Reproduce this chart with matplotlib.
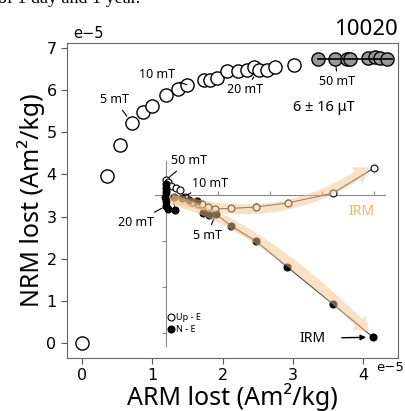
import numpy as np
import matplotlib
matplotlib.use('Agg')
from matplotlib import pyplot as plt
from matplotlib.patches import FancyArrowPatch
from matplotlib.path import Path
from matplotlib.lines import Line2D

plt.rcParams['font.family'] = ['DejaVu Sans']
LABEL_FONT = ['Noto Sans', 'DejaVu Sans']

# main plot : NRM lost vs ARM lost, in units of 1e-5 Am2/kg
arm_lost = [0.0, 0.36, 0.54, 0.71, 0.87, 0.99, 1.20, 1.37, 1.49, 1.73, 1.82, 1.92,
            2.06, 2.22, 2.34, 2.44, 2.51, 2.63, 2.75, 3.01]
nrm_lost = [0.0, 3.97, 4.70, 5.22, 5.49, 5.63, 5.89, 6.02, 6.13, 6.25, 6.25, 6.29,
            6.45, 6.45, 6.47, 6.56, 6.48, 6.48, 6.56, 6.60]
# steps above 50 mT (grey) and the fit through them
arm_lost_hi = [3.36, 3.60, 3.77, 3.81, 4.07, 4.17, 4.24, 4.33]
nrm_lost_hi = [6.75, 6.74, 6.73, 6.75, 6.77, 6.78, 6.76, 6.75]
fit_arm = [3.36, 4.41]
fit_nrm = [6.75, 6.75]
x_ticks = [0, 1, 2, 3, 4]
y_ticks = [0, 1, 2, 3, 4, 5, 6, 7]

# inset : orthogonal projection (arbitrary units)
upe_x = [0.0, 0.04, 0.10, 0.20, 0.27, 0.37, 0.50, 0.62, 0.69, 0.81, 0.94, 1.25, 1.73, 2.35, 3.21, 4.00]
upe_y = [0.33, 0.28, 0.20, 0.15, 0.10, -0.05, -0.15, -0.20, -0.19, -0.26, -0.30, -0.29, -0.26, -0.17, 0.04, 0.59]
ne_x = [0.0, 0.0, 0.0, -0.02, 0.0, 0.0, 0.04, 0.17, 0.15, 0.30, 0.45, 0.60, 0.72, 0.82, 0.96, 1.25, 1.73, 2.33, 3.21, 3.98]
ne_y = [0.24, 0.15, 0.06, -0.04, -0.13, -0.24, -0.30, -0.33, -0.05, -0.06, -0.10, -0.14, -0.40, -0.44, -0.41, -0.67, -1.00, -1.56, -2.37, -3.09]
# IRM direction arrows (quadratic bezier control points)
irm_arrow_upe = [(0.10, -0.05), (2.20, -0.80), (3.90, 0.60)]
irm_arrow_ne = [(0.10, -0.10), (1.80, -0.60), (3.90, -2.98)]

W, H = 406, 411
fig = plt.figure(figsize=(W / 100, H / 100), dpi=100)

# clipped caption line from the page above
fig.text(-0.005, 1 - 3 / H, 'of 1 day and 1 year.', family='Liberation Serif', fontsize=13, va='baseline')

ax = fig.add_axes([67 / W, 1 - 358 / H, (398 - 67) / W, (358 - 43) / H])
ax.scatter(arm_lost, nrm_lost, s=90, facecolor='white', edgecolor='black', linewidth=1, zorder=3)
ax.scatter(arm_lost_hi, nrm_lost_hi, s=90, facecolor='#999999', edgecolor='black', linewidth=1, zorder=3)
ax.plot(fit_arm, fit_nrm, color='black', lw=1.2, zorder=4)

ax.set_xlim(-0.21, 4.49)
ax.set_ylim(-0.36, 7.12)
ax.set_xticks(x_ticks)
ax.set_yticks(y_ticks)
ax.tick_params(labelsize=11.5, length=4, color='#555555')
for s in ax.spines.values():
    s.set_color('#666666')
ax.text(0.018, 1.005, 'e\u22125', transform=ax.transAxes, fontsize=10.5, va='bottom')
ax.text(0.933, -0.03, 'e\u22125', transform=ax.transAxes, fontsize=9.5, va='center')
ax.set_xlabel('ARM lost (Am\u00b2/kg)', family=LABEL_FONT, fontsize=18, labelpad=0)
ax.set_ylabel('NRM lost (Am\u00b2/kg)', family=LABEL_FONT, fontsize=18, labelpad=1)
ax.set_title('10020', family=LABEL_FONT, fontsize=16, loc='right', pad=6)

lead = dict(arrowstyle='-', lw=0.8, color='black', shrinkA=1, shrinkB=6)
ax.annotate('5 mT', xy=(arm_lost[3], nrm_lost[3]), xytext=(0.47, 5.77), family=LABEL_FONT,
            fontsize=9, ha='center', va='center', arrowprops=lead)
ax.annotate('10 mT', xy=(arm_lost[8], nrm_lost[8]), xytext=(1.07, 6.37), family=LABEL_FONT,
            fontsize=9, ha='center', va='center', arrowprops=lead)
ax.annotate('20 mT', xy=(arm_lost[16], nrm_lost[16]), xytext=(2.32, 6.01), family=LABEL_FONT,
            fontsize=9, ha='center', va='center', arrowprops=lead)
ax.annotate('50 mT', xy=(arm_lost_hi[1], nrm_lost_hi[1]), xytext=(3.63, 6.20), family=LABEL_FONT,
            fontsize=9, ha='center', va='center', arrowprops=lead)
ax.text(3.43, 5.58, '6 \u00b1 16 \u03bcT', family=LABEL_FONT, fontsize=10.5, ha='center', va='center')

# inset
ins = fig.add_axes([155 / W, 1 - 346 / H, (385 - 155) / W, (346 - 161) / H])
ins.set_facecolor('none')
ins.set_xlim(-0.21, 4.21)
ins.set_ylim(-3.28, 0.74)
ins.spines['left'].set_position(('data', 0))
ins.spines['bottom'].set_position(('data', 0))
ins.spines['top'].set_visible(False)
ins.spines['right'].set_visible(False)
for s in ['left', 'bottom']:
    ins.spines[s].set_color('#888888')
ins.set_xticks([1, 2, 3, 4])
ins.set_yticks([-3, -2, -1])
ins.tick_params(axis='x', direction='in', length=3, color='#888888', labelbottom=False)
ins.tick_params(axis='y', direction='out', length=3, color='#888888', labelleft=False)

ins.plot(upe_x, upe_y, '-o', color='#444444', lw=0.8, ms=5, mfc='white', mec='black', mew=0.8, zorder=3)
ins.plot(ne_x, ne_y, '-o', color='#444444', lw=0.8, ms=5, mfc='black', mec='black', mew=0.8, zorder=3)

codes = [Path.MOVETO, Path.CURVE3, Path.CURVE3]
for pts in [irm_arrow_upe, irm_arrow_ne]:
    arr = FancyArrowPatch(path=Path(pts, codes),
                          arrowstyle='simple,head_length=1.0,head_width=1.4,tail_width=0.7',
                          mutation_scale=10, color='#f5c48c', alpha=0.5, lw=0, zorder=4)
    ins.add_patch(arr)

ins.text(3.75, -0.35, 'IRM', family=LABEL_FONT, fontsize=10, color='#f7b464', ha='center', va='center')
ins.annotate('IRM', xy=(ne_x[-1], ne_y[-1]), xytext=(2.81, -3.11), family=LABEL_FONT, fontsize=10,
             ha='center', va='center',
             arrowprops=dict(arrowstyle='-|>', lw=1, color='black', shrinkA=10, shrinkB=5, mutation_scale=8))

ins_lead = dict(arrowstyle='-', lw=0.8, color='black', shrinkA=1, shrinkB=3)
ins.annotate('50 mT', xy=(upe_x[0], upe_y[0]), xytext=(0.44, 0.74), family=LABEL_FONT,
             fontsize=9, ha='center', va='center', arrowprops=ins_lead, annotation_clip=False)
ins.annotate('10 mT', xy=(ne_x[9], ne_y[9]), xytext=(0.85, 0.26), family=LABEL_FONT,
             fontsize=9, ha='center', va='center', arrowprops=ins_lead)
ins.annotate('20 mT', xy=(ne_x[5], ne_y[5]), xytext=(-0.58, -0.59), family=LABEL_FONT,
             fontsize=9, ha='center', va='center', arrowprops=ins_lead, annotation_clip=False)
ins.annotate('5 mT', xy=(ne_x[14], ne_y[14]), xytext=(0.79, -0.87), family=LABEL_FONT,
             fontsize=9, ha='center', va='center', arrowprops=ins_lead)

handles = [Line2D([], [], ls='', marker='o', ms=5, mfc='white', mec='black', mew=0.8),
           Line2D([], [], ls='', marker='o', ms=5, mfc='black', mec='black', mew=0.8)]
ins.legend(handles, ['Up - E', 'N - E'], loc='lower left', bbox_to_anchor=(0.03, 0.03),
           frameon=False, handlelength=0.6, handletextpad=0.3,
           labelspacing=0.3, borderpad=0.2, prop={'family': LABEL_FONT, 'size': 6.5})

plt.savefig('out.png', dpi=100)
